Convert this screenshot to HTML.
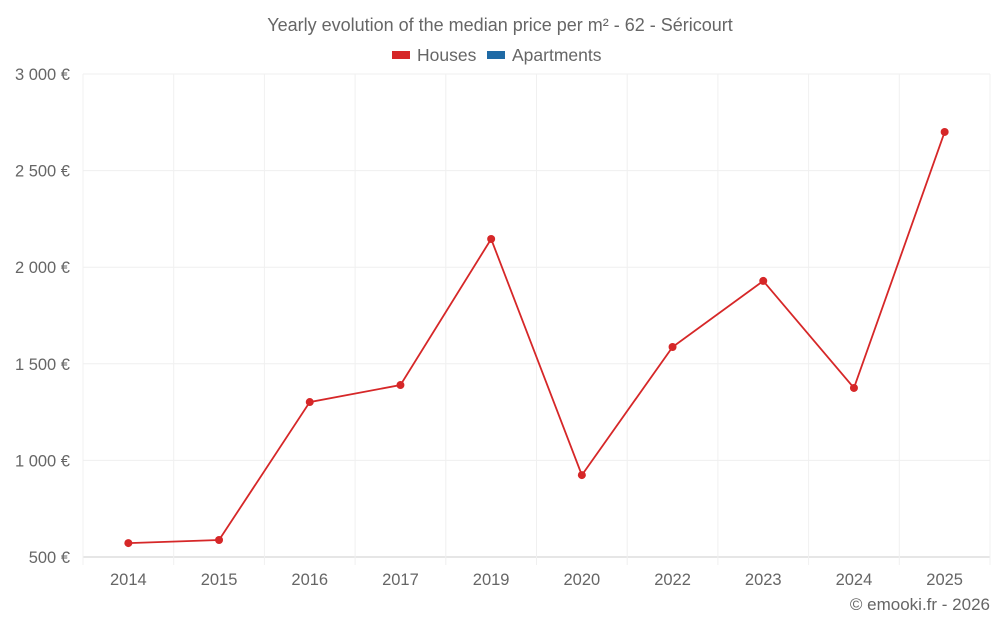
<!DOCTYPE html>
<html><head><meta charset="utf-8"><style>
body{margin:0;background:#fff;font-family:"Liberation Sans",sans-serif;}
svg text{font-family:"Liberation Sans",sans-serif;fill:#666;}
</style></head><body>
<svg id="chart" width="1000" height="625" xmlns="http://www.w3.org/2000/svg">
<text x="500" y="31" text-anchor="middle" font-size="18">Yearly evolution of the median price per m² - 62 - Séricourt</text>
<g>
<g><rect x="392" y="51" width="18" height="8" fill="#d62728"/><text x="417" y="61" font-size="17.5">Houses</text></g>
<g><rect x="487" y="51" width="18" height="8" fill="#1f6aa5"/><text x="512" y="61" font-size="17.5">Apartments</text></g>
</g>
<g id="grid"></g>
<g id="yaxis"></g>
<g id="xaxis"></g>
<g id="series"></g>
<text x="990" y="610" text-anchor="end" font-size="17">© emooki.fr - 2026</text>
</svg>
<script>
const categories = ["2014","2015","2016","2017","2019","2020","2022","2023","2024","2025"];
const housesValues = [572,588,1302,1390,2146,924,1587,1929,1375,2700];
const yTicks = [500,1000,1500,2000,2500,3000];
const yTickLabels = ["500 €","1 000 €","1 500 €","2 000 €","2 500 €","3 000 €"];
const NS="http://www.w3.org/2000/svg";
const L=83,R=990,T=74,B=557,yMin=500,yMax=3000;
const y=v=>B-(v-yMin)/(yMax-yMin)*(B-T);
const bw=(R-L)/categories.length;
const x=i=>L+bw*(i+0.5);
function mk(tag,attrs,parent){const e=document.createElementNS(NS,tag);for(const k in attrs)e.setAttribute(k,attrs[k]);parent.appendChild(e);return e;}
const grid=document.getElementById('grid'),ya=document.getElementById('yaxis'),xa=document.getElementById('xaxis'),se=document.getElementById('series');
yTicks.forEach((t,i)=>{
  const l=mk('line',{x1:L,x2:R,y1:y(t),y2:y(t),stroke:i===0?'#ccc':'#efefef','stroke-width':1},grid);
  
  
  const tx=mk('text',{x:70,y:y(t)+6,'text-anchor':'end','font-size':16.5},ya);
  tx.textContent=yTickLabels[i];
  
  
});
for(let i=0;i<=categories.length;i++){
  const gx=L+bw*i;
  const l=mk('line',{x1:gx,x2:gx,y1:T,y2:B+8,stroke:'#f0f0f0','stroke-width':1},grid);
  
  
}
categories.forEach((c,i)=>{
  const tx=mk('text',{x:x(i),y:585,'text-anchor':'middle','font-size':16.5},xa);
  tx.textContent=c;
  
  
});
const pts=housesValues.map((v,i)=>x(i)+','+y(v)).join(' ');
const pl=mk('polyline',{points:pts,fill:'none',stroke:'#d62728','stroke-width':1.8},se);


housesValues.forEach((v,i)=>{
  const c=mk('circle',{cx:x(i),cy:y(v),r:4,fill:'#d62728'},se);
  
  
});
</script>
</body></html>
